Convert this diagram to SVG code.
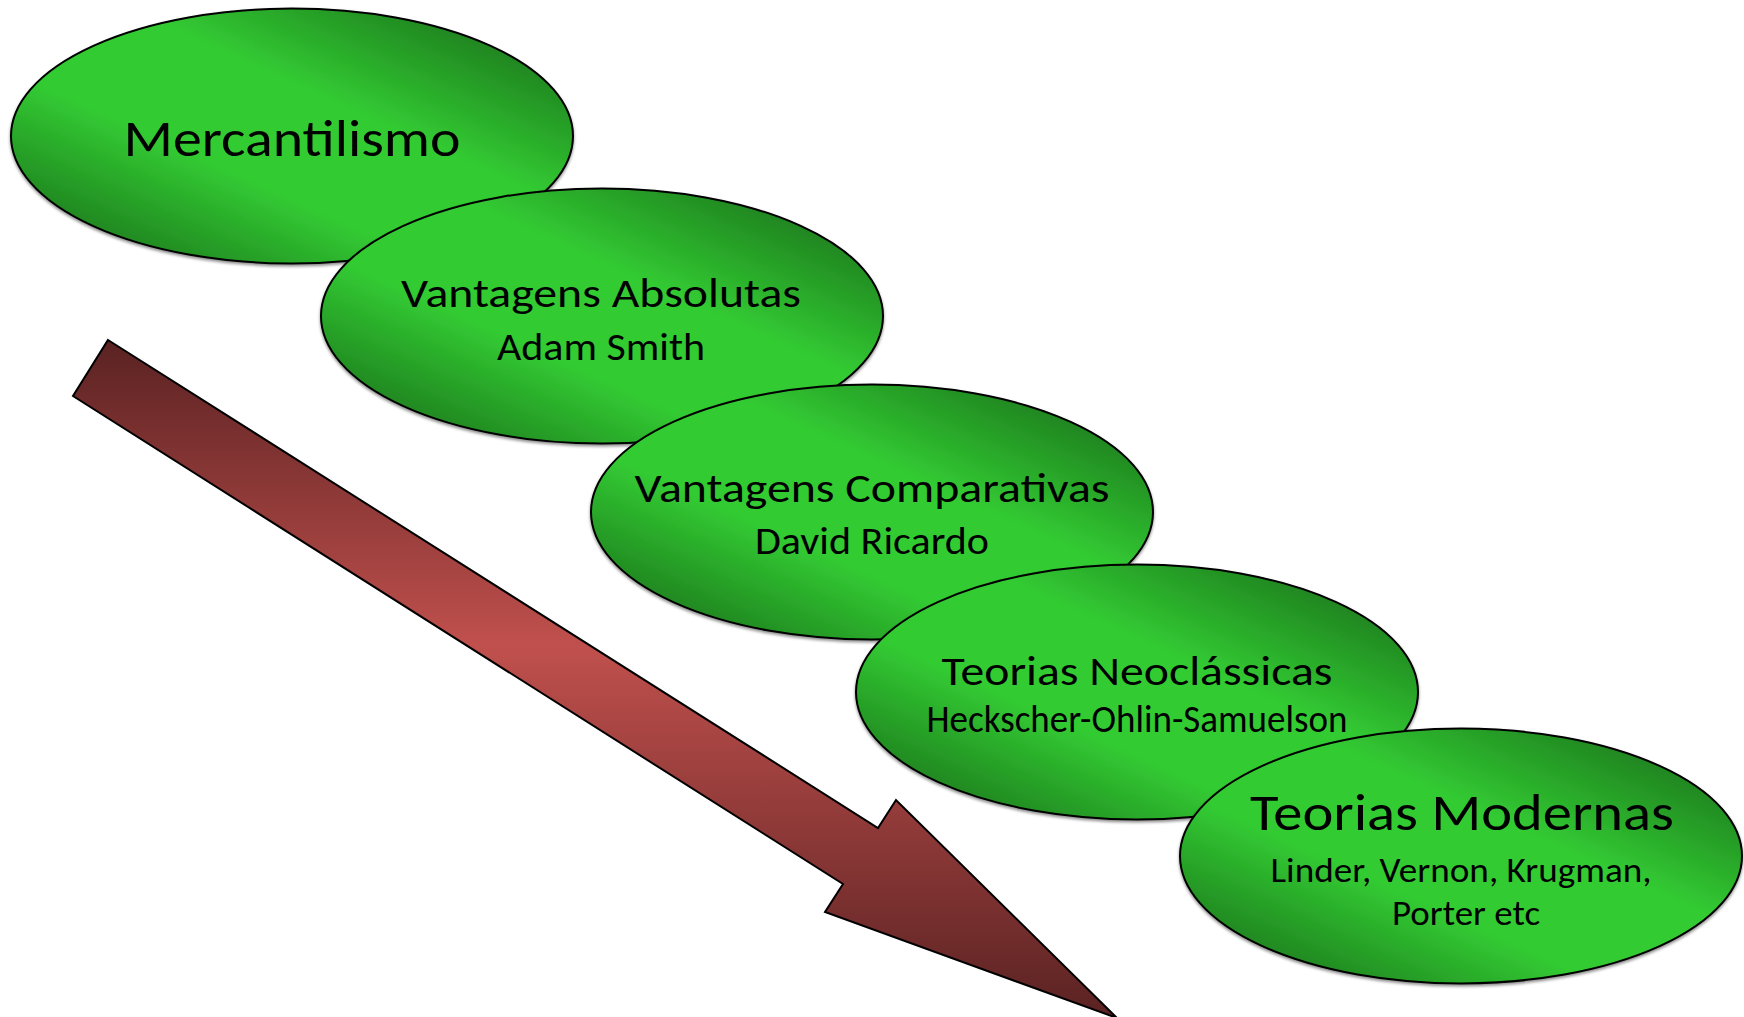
<svg xmlns="http://www.w3.org/2000/svg" width="1744" height="1017" viewBox="0 0 1744 1017">
  <defs>
    <linearGradient id="gGreen" x1="1" y1="0" x2="0" y2="1">
      <stop offset="0" stop-color="#145f14"/>
      <stop offset="0.16" stop-color="#218a21"/>
      <stop offset="0.4" stop-color="#33cc33"/>
      <stop offset="0.62" stop-color="#33cc33"/>
      <stop offset="0.85" stop-color="#218a21"/>
      <stop offset="1" stop-color="#145f14"/>
    </linearGradient>
    <linearGradient id="gRed" x1="0" y1="0" x2="0" y2="1">
      <stop offset="0" stop-color="#5a2222"/>
      <stop offset="0.45" stop-color="#c0504d"/>
      <stop offset="1" stop-color="#5a2222"/>
    </linearGradient>
    <filter id="shadow" x="-5%" y="-5%" width="110%" height="115%">
      <feDropShadow dx="0" dy="2" stdDeviation="1.5" flood-color="#000" flood-opacity="0.45"/>
    </filter>
  </defs>
  <style>
    .node ellipse { fill: url(#gGreen); stroke: #000; stroke-width: 2; filter: url(#shadow); }
    text { font-family: Carlito, Calibri, Lato, "Noto Sans", sans-serif; fill: #000; text-anchor: middle; }
    .big { font-size: 51px; }
    .title { font-size: 40px; }
    .sub { font-size: 38px; }
    .small { font-size: 34px; }
    .arrow { fill: url(#gRed); stroke: #000; stroke-width: 2; stroke-linejoin: miter; }
  </style>
  <rect width="1744" height="1017" fill="#fff"/>

  <g id="connectors">
    <polygon class="arrow" points="108,340 878,828 896,800 1117,1018 825,912 843,884 73,396"/>
  </g>

  <g id="node-mercantilismo" class="node">
    <ellipse cx="292" cy="136" rx="281" ry="127.5"/>
    <text class="big" x="292" y="156" textLength="337" lengthAdjust="spacingAndGlyphs">Mercantilismo</text>
  </g>

  <g id="node-vantagens-absolutas" class="node">
    <ellipse cx="602" cy="316" rx="281" ry="127.5"/>
    <text class="title" x="601" y="307" textLength="400" lengthAdjust="spacingAndGlyphs">Vantagens Absolutas</text>
    <text class="sub" x="601" y="360" textLength="208" lengthAdjust="spacingAndGlyphs">Adam Smith</text>
  </g>

  <g id="node-vantagens-comparativas" class="node">
    <ellipse cx="872" cy="512" rx="281" ry="127.5"/>
    <text class="title" x="872" y="502" textLength="475" lengthAdjust="spacingAndGlyphs">Vantagens Comparativas</text>
    <text class="sub" x="872" y="554" textLength="234" lengthAdjust="spacingAndGlyphs">David Ricardo</text>
  </g>

  <g id="node-teorias-neoclassicas" class="node">
    <ellipse cx="1137" cy="692" rx="281" ry="127.5"/>
    <text class="title" x="1137" y="685" textLength="391" lengthAdjust="spacingAndGlyphs">Teorias Neoclássicas</text>
    <text class="sub" x="1137" y="732" textLength="421" lengthAdjust="spacingAndGlyphs">Heckscher-Ohlin-Samuelson</text>
  </g>

  <g id="node-teorias-modernas" class="node">
    <ellipse cx="1461" cy="856" rx="281" ry="127.5"/>
    <text class="big" x="1462" y="830" textLength="424" lengthAdjust="spacingAndGlyphs">Teorias Modernas</text>
    <text class="small" x="1461" y="882" textLength="381" lengthAdjust="spacingAndGlyphs">Linder, Vernon, Krugman,</text>
    <text class="small" x="1466" y="925" textLength="148" lengthAdjust="spacingAndGlyphs">Porter etc</text>
  </g>
</svg>
